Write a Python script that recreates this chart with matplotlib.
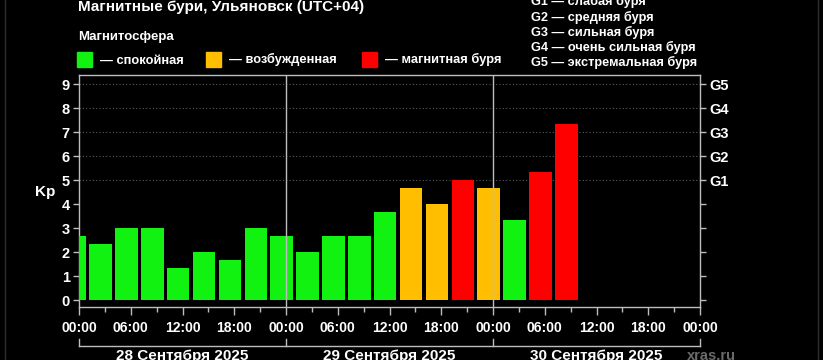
import matplotlib
matplotlib.use("Agg")
import matplotlib.pyplot as plt
from matplotlib import transforms

plt.rcParams['font.family'] = ['Liberation Sans', 'DejaVu Sans']

# данные: начало 3-часового интервала (часы от 00:00 28 сентября, местное время) и Kp
interval_start = [-2, 1, 4, 7, 10, 13, 16, 19, 22, 25,
                  28, 31, 34, 37, 40, 43, 46, 49, 52, 55]
kp_values = [2.67, 2.33, 3.0, 3.0, 1.33, 2.0, 1.67, 3.0, 2.67, 2.0,
             2.67, 2.67, 3.67, 4.67, 4.0, 5.0, 4.67, 3.33, 5.33, 7.33]

x_tick_labels = ["00:00", "06:00", "12:00", "18:00"] * 3 + ["00:00"]
g_labels = ["G1", "G2", "G3", "G4", "G5"]
day_labels = ["28 Сентября 2025", "29 Сентября 2025", "30 Сентября 2025"]
legend_labels = ["— спокойная", "— возбужденная", "— магнитная буря"]
g_legend = ["G1 — слабая буря", "G2 — средняя буря", "G3 — сильная буря",
            "G4 — очень сильная буря", "G5 — экстремальная буря"]

GREEN = '#11f211'
ORANGE = '#ffbf00'
RED = '#ff0000'
AXC = '#bdbdbd'

W, H = 823, 360


def fx(px):
    return px / W


def fy(py):
    return 1 - py / H


def kp_color(v):
    if v < 4:
        return GREEN
    if v < 5:
        return ORANGE
    return RED


fig = plt.figure(figsize=(8.23, 3.6), dpi=100, facecolor='black')
ax = fig.add_axes([fx(79), fy(307), fx(700) - fx(79), fy(75) - fy(307)])
ax.set_facecolor('black')

# столбцы
centers = [s + 1.5 for s in interval_start]
ax.bar(centers, kp_values, width=2.62, color=[kp_color(v) for v in kp_values],
       linewidth=0, zorder=3)

ax.set_xlim(0, 72)
ax.set_ylim(-0.29, 9.375)

# сетка только для уровней бурь
for lvl in range(5, 10):
    ax.axhline(lvl, color='#5a5a5a', lw=0.8, ls=(0, (1, 2)), zorder=1)
# границы суток
for d in (24, 48):
    ax.axvline(d, color=AXC, lw=1.0, zorder=4)

for sp in ax.spines.values():
    sp.set_color(AXC)
    sp.set_linewidth(1.0)

ax.set_xticks(range(0, 73, 6))
ax.set_xticklabels(x_tick_labels)
ax.set_xticks(range(3, 72, 6), minor=True)
ax.set_yticks(range(10))
ax.tick_params(axis='x', which='major', colors=AXC, length=6, width=1, pad=4,
               labelcolor='white', labelsize=10)
ax.tick_params(axis='x', which='minor', colors=AXC, length=3.5, width=1)
ax.tick_params(axis='y', colors=AXC, length=4.5, width=1, pad=2,
               labelcolor='white', labelsize=10.5)
for lab in ax.get_xticklabels() + ax.get_yticklabels():
    lab.set_fontweight('bold')

ax2 = ax.twinx()
ax2.set_ylim(ax.get_ylim())
ax2.set_yticks(range(10))
ax2.set_yticklabels([""] * 5 + g_labels)
ax2.tick_params(axis='y', colors=AXC, length=4.5, width=1, pad=2,
                labelcolor='white', labelsize=10.5)
for lab in ax2.get_yticklabels():
    lab.set_fontweight('bold')
for sp in ax2.spines.values():
    sp.set_visible(False)

# подпись оси
fig.text(fx(45), fy(196), "Kp", color='white', fontsize=11, fontweight='bold',
         ha='center', va='baseline')

# заголовки
fig.text(fx(78), fy(11.5), "Магнитные бури, Ульяновск (UTC+04)", color='white',
         fontsize=11, fontweight='bold', va='baseline')
fig.text(fx(78), fy(40), "Магнитосфера", color='white',
         fontsize=9.5, fontweight='bold', va='baseline')

# легенда цветов
leg_x = [77, 206, 362]
for x0, col, lab in zip(leg_x, [GREEN, ORANGE, RED], legend_labels):
    fig.patches.append(plt.Rectangle((fx(x0), fy(67)), fx(15), 15 / H,
                                     transform=fig.transFigure, color=col))
    fig.text(fx(x0 + 23), fy(63.5), lab, color='white', fontsize=9.3,
             fontweight='bold', va='baseline')

# легенда уровней бурь
for i, lab in enumerate(g_legend):
    fig.text(fx(531), fy(5.2 + 15.3 * i), lab, color='white', fontsize=9.2,
             fontweight='bold', va='baseline')

# скобка дат
tr = transforms.blended_transform_factory(ax.transData, fig.transFigure)
ax.plot([0, 72], [fy(345.5), fy(345.5)], color=AXC, lw=1, transform=tr, clip_on=False)
for d in (0, 24, 48, 72):
    ax.plot([d, d], [fy(345.5), fy(338.5)], color=AXC, lw=1, transform=tr, clip_on=False)
for i, lab in enumerate(day_labels):
    ax.text(12 + 24 * i, fy(349), lab, color='white', fontsize=11,
            fontweight='bold', ha='center', va='top', transform=tr)
fig.text(fx(687), fy(349), "xras.ru", color='#6a6a6a', fontsize=10.5,
         fontweight='bold', va='top')

# рамка скриншота
for xp in (5, 817.5):
    fig.add_artist(plt.Line2D([fx(xp), fx(xp)], [0, 1], color='#2e2e2e', lw=1,
                              transform=fig.transFigure))

fig.savefig("out.png", dpi=100, facecolor='black')
